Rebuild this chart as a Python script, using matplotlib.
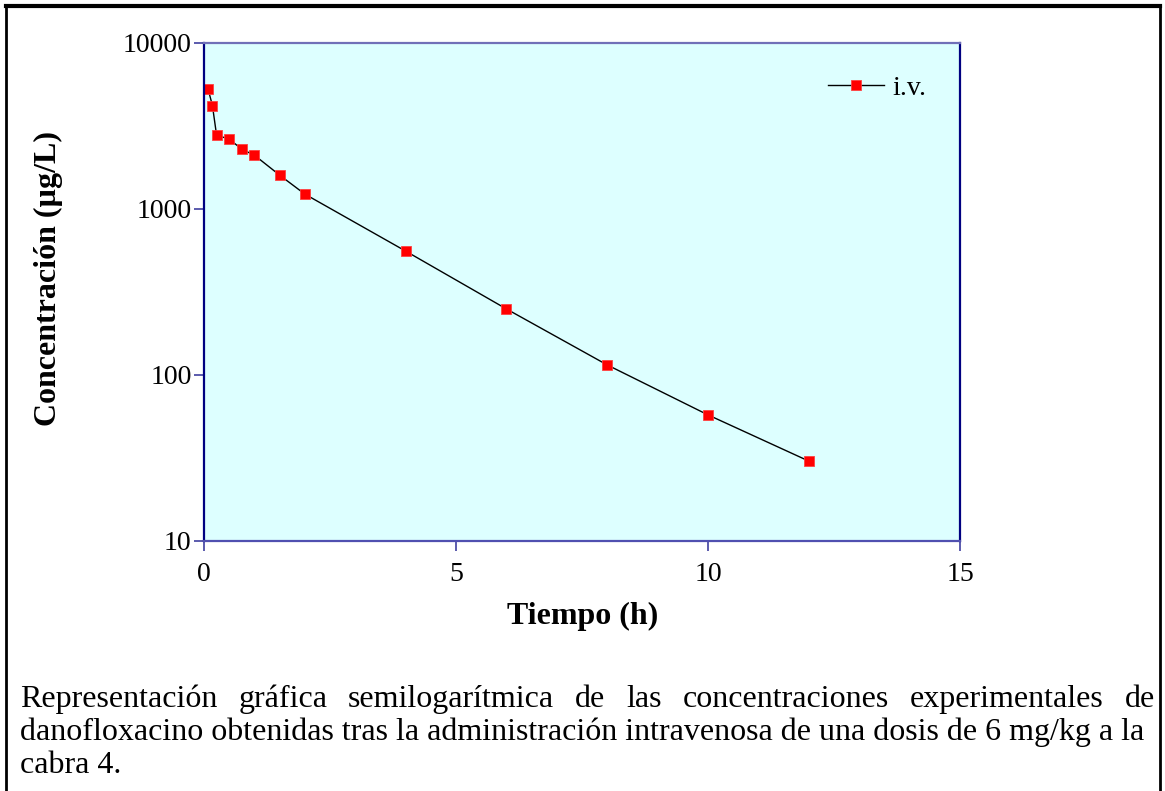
import matplotlib.pyplot as plt
from matplotlib.lines import Line2D

plt.rcParams['font.family'] = ['Liberation Serif', 'DejaVu Serif']

# tiempo (h) y concentracion (ug/L), cabra 4, i.v.
tiempo = [0.083, 0.167, 0.25, 0.5, 0.75, 1.0, 1.5, 2.0, 4.0, 6.0, 8.0, 10.0, 12.0]
conc = [5250, 4200, 2780, 2640, 2290, 2110, 1600, 1230, 558, 250, 115, 57.5, 30.3]

x_ticks = [0, 5, 10, 15]
y_ticks = [10, 100, 1000, 10000]
y_ticklabels = ['10', '100', '1000', '10000']

caption = [
    "Representación gráfica semilogarítmica de las concentraciones experimentales de",
    "danofloxacino obtenidas tras la administración intravenosa de una dosis de 6 mg/kg a la",
    "cabra 4.",
]

W, H = 1165, 791
fig = plt.figure(figsize=(W / 100, H / 100), dpi=100)
ax = fig.add_axes([204 / W, 1 - 541 / H, (960 - 204) / W, (541 - 43) / H])
ax.set_facecolor('#ddffff')

ax.plot(tiempo, conc, color='black', linewidth=1.0, marker='s', markersize=6.5,
        markerfacecolor='#ff0000', markeredgecolor='#ff4040', markeredgewidth=0.6,
        label='i.v.')

ax.set_yscale('log')
ax.set_xlim(0, 15)
ax.set_ylim(10, 10000)
ax.set_xticks(x_ticks)
ax.set_xticklabels([str(t) for t in x_ticks])
ax.set_yticks(y_ticks)
ax.set_yticklabels(y_ticklabels)
ax.minorticks_off()
ax.tick_params(axis='both', direction='out', length=7, width=1.2, color='#4040a0',
               labelsize=20)
ax.tick_params(axis='x', pad=8)
ax.tick_params(axis='y', pad=2)

for side, col in [('left', '#000080'), ('bottom', '#5050b0'),
                  ('top', '#7070b8'), ('right', '#000080')]:
    ax.spines[side].set_color(col)
    ax.spines[side].set_linewidth(1.6)

fig.text(583 / W, 1 - 616 / H, 'Tiempo (h)', fontsize=23, fontweight='bold',
         ha='center', va='center')
fig.text(48 / W, 1 - 279 / H, 'Concentración (µg/L)', fontsize=23, fontweight='bold',
         ha='center', va='center', rotation=90)

ax.legend(loc='center left', frameon=False, fontsize=20, handlelength=2.0,
          handletextpad=0.3, borderpad=0, borderaxespad=0,
          bbox_to_anchor=((828 - 204) / 756, (541 - 88) / 498))

# marco de la figura
fig.add_artist(Line2D([6 / W, 1160 / W], [1 - 6 / H, 1 - 6 / H], color='black', linewidth=3,
                      transform=fig.transFigure))
fig.add_artist(Line2D([6 / W, 6 / W], [0, 1 - 6 / H], color='black', linewidth=2,
                      transform=fig.transFigure))
fig.add_artist(Line2D([1160 / W, 1160 / W], [0, 1 - 6 / H], color='black', linewidth=2,
                      transform=fig.transFigure))

# pie de figura, primera linea justificada
cap_size = 23
left_px, right_px = 20, 1155
baselines = [707, 740, 773]
renderer = fig.canvas.get_renderer()

words = caption[0].split()
widths = []
for w in words:
    t = fig.text(0, 0, w, fontsize=cap_size)
    widths.append(t.get_window_extent(renderer).width)
    t.remove()
gap = (right_px - left_px - sum(widths)) / (len(words) - 1)
xpos = left_px
for w, wd in zip(words, widths):
    fig.text(xpos / W, 1 - baselines[0] / H, w, fontsize=cap_size, va='baseline', ha='left')
    xpos += wd + gap

for line, b in zip(caption[1:], baselines[1:]):
    fig.text(left_px / W, 1 - b / H, line, fontsize=cap_size, va='baseline', ha='left')

fig.savefig('out.png', dpi=100)
